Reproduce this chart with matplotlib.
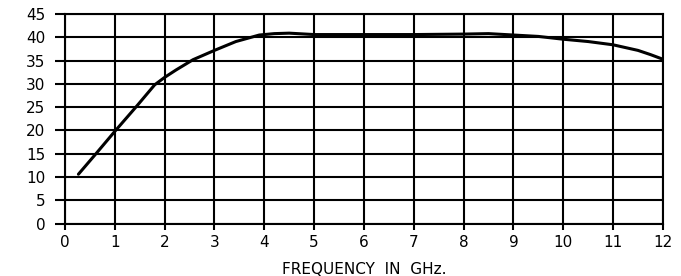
import matplotlib.pyplot as plt

# values
freq = [0.27, 0.63, 1.0, 1.43, 1.8, 2.0, 2.23, 2.57, 3.0, 3.43, 3.9, 4.2, 4.5, 5.0, 6.0, 7.0, 8.0, 8.5,
        9.0, 9.5, 10.0, 10.5, 11.0, 11.5, 11.75, 12.0]
gain = [10.6, 15.1, 19.8, 25.1, 29.8, 31.4, 33.0, 35.2, 37.2, 39.1, 40.5, 40.8, 40.9, 40.6, 40.6, 40.6, 40.7, 40.8,
        40.5, 40.2, 39.6, 39.1, 38.4, 37.2, 36.3, 35.3]
xticks = list(range(0, 13))
yticks = list(range(0, 50, 5))

fig = plt.figure(figsize=(6.81, 2.76), dpi=100)
ax = fig.add_axes([0.0954, 0.19, 0.878, 0.759])

ax.plot(freq, gain, color='black', linewidth=2.2, solid_capstyle='round', solid_joinstyle='round')

ax.set_xlim(0, 12)
ax.set_ylim(0, 45)
ax.set_xticks(xticks)
ax.set_yticks(yticks)
ax.grid(True, color='black', linewidth=1.5)
for s in ax.spines.values():
    s.set_linewidth(1.5)

ax.tick_params(axis='y', length=7, width=1.5, pad=7, labelsize=11)
ax.tick_params(axis='x', length=4, width=1.5, pad=4, labelsize=11)
ax.set_xlabel('FREQUENCY  IN  GHz.', fontsize=11, labelpad=9)

plt.savefig('out.png', dpi=100)
